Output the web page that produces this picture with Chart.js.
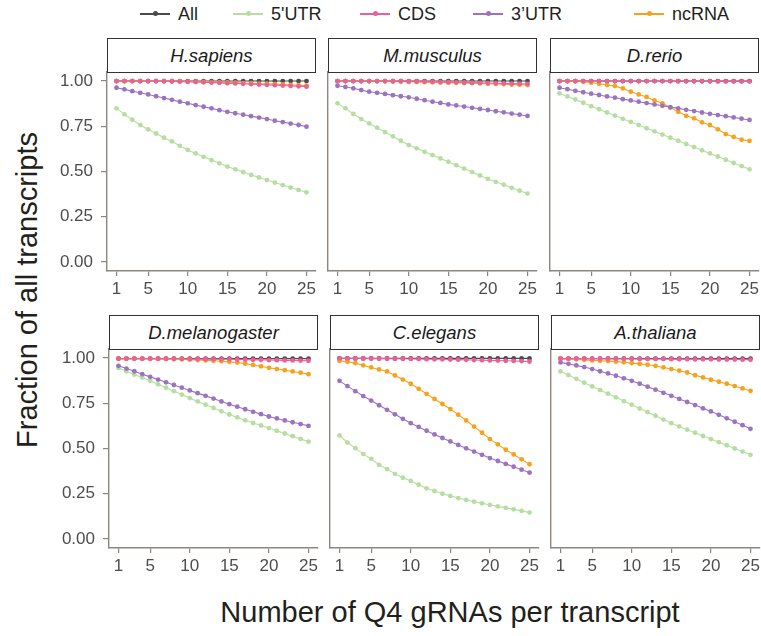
<!DOCTYPE html>
<html><head><meta charset="utf-8">
<script src="https://cdn.jsdelivr.net/npm/chart.js@4.4.0/dist/chart.umd.min.js"></script>
<style>
html,body{margin:0;padding:0;background:#fff;}
body{width:761px;height:636px;position:relative;overflow:hidden;font-family:"Liberation Sans",Arial,Helvetica,sans-serif;}
canvas{position:absolute;}
.strip{position:absolute;box-sizing:border-box;border:1px solid #333;background:#fff;font-style:italic;font-size:18.5px;color:#1a1a1a;display:flex;align-items:center;justify-content:center;}
.leg{position:absolute;top:4px;height:20px;display:flex;align-items:center;font-size:18px;color:#231f1a;}
.legline{position:relative;width:30px;height:1.5px;margin-right:8px;}
.legdot{position:absolute;left:12.5px;top:-2px;width:5px;height:5px;border-radius:50%;}
.title{position:absolute;color:#231f1a;font-size:29px;white-space:nowrap;}
</style></head><body>
<script>
// ---------- DATA ----------
const xValues = [1,2,3,4,5,6,7,8,9,10,11,12,13,14,15,16,17,18,19,20,21,22,23,24,25];
const xTicks = [1,5,10,15,20,25];
const yTicks = [0,0.25,0.5,0.75,1];
const seriesNames = ["All","5'UTR","CDS","3\u2019UTR","ncRNA"];
const seriesColors = ["#4a4a4a","#b5dea0","#ec5f99","#9b73c0","#f7a21b"];
const speciesNames = ["H.sapiens","M.musculus","D.rerio","D.melanogaster","C.elegans","A.thaliana"];

const hsapiens_All   = [1,1,1,1,1,1,1,1,1,1,1,1,1,1,1,1,1,1,1,1,1,1,1,1,1];
const hsapiens_5UTR  = [0.849,0.816,0.786,0.757,0.733,0.710,0.687,0.666,0.642,0.619,0.600,0.581,0.563,0.545,0.527,0.512,0.497,0.481,0.467,0.453,0.439,0.425,0.411,0.398,0.385];
const hsapiens_CDS   = [1,1,1,1,1,1,0.999,0.998,0.997,0.996,0.995,0.993,0.992,0.990,0.988,0.987,0.985,0.983,0.981,0.979,0.977,0.975,0.973,0.971,0.969];
const hsapiens_3UTR  = [0.963,0.954,0.944,0.935,0.926,0.916,0.906,0.896,0.886,0.877,0.867,0.858,0.849,0.839,0.830,0.822,0.814,0.806,0.798,0.790,0.781,0.773,0.765,0.757,0.748];
const hsapiens_ncRNA = [1,1,1,1,1,1,1,0.999,0.998,0.997,0.996,0.995,0.994,0.993,0.992,0.991,0.989,0.988,0.986,0.985,0.983,0.981,0.979,0.977,0.975];

const mmusculus_All   = [1,1,1,1,1,1,1,1,1,1,1,1,1,1,1,1,1,1,1,1,1,1,1,1,1];
const mmusculus_5UTR  = [0.877,0.849,0.818,0.790,0.766,0.742,0.718,0.694,0.670,0.646,0.628,0.609,0.591,0.572,0.554,0.535,0.516,0.497,0.478,0.459,0.443,0.427,0.410,0.394,0.378];
const mmusculus_CDS   = [1,1,1,1,1,1,1,0.999,0.999,0.998,0.998,0.997,0.996,0.995,0.994,0.993,0.992,0.991,0.990,0.989,0.988,0.987,0.986,0.985,0.984];
const mmusculus_3UTR  = [0.974,0.967,0.960,0.950,0.941,0.935,0.929,0.922,0.916,0.910,0.902,0.894,0.886,0.879,0.871,0.865,0.859,0.852,0.846,0.840,0.833,0.827,0.820,0.814,0.807];
const mmusculus_ncRNA = [1,1,1,1,1,0.999,0.999,0.998,0.997,0.996,0.995,0.994,0.993,0.992,0.991,0.990,0.989,0.988,0.987,0.985,0.984,0.983,0.981,0.980,0.978];

const drerio_All   = [1,1,1,1,1,1,1,1,1,1,1,1,1,1,1,1,1,1,1,1,1,1,1,1,1];
const drerio_5UTR  = [0.932,0.915,0.898,0.880,0.861,0.844,0.826,0.809,0.791,0.774,0.757,0.739,0.722,0.704,0.687,0.670,0.652,0.635,0.617,0.600,0.583,0.565,0.547,0.530,0.512];
const drerio_CDS   = [1,1,1,1,1,1,1,1,1,1,1,1,1,1,1,0.999,0.999,0.999,0.999,0.999,0.998,0.998,0.998,0.998,0.998];
const drerio_3UTR  = [0.963,0.955,0.946,0.938,0.930,0.923,0.915,0.908,0.900,0.893,0.886,0.878,0.871,0.863,0.856,0.849,0.841,0.834,0.826,0.819,0.812,0.806,0.799,0.792,0.785];
const drerio_ncRNA = [1,1,0.999,0.996,0.991,0.985,0.978,0.972,0.960,0.941,0.926,0.912,0.893,0.877,0.853,0.830,0.808,0.794,0.772,0.757,0.733,0.707,0.691,0.676,0.669];

const dmelanogaster_All   = [0.997,0.997,0.997,0.997,0.997,0.997,0.997,0.997,0.997,0.997,0.997,0.997,0.997,0.997,0.997,0.997,0.997,0.997,0.997,0.997,0.997,0.997,0.997,0.997,0.997];
const dmelanogaster_5UTR  = [0.945,0.927,0.909,0.892,0.874,0.855,0.836,0.817,0.798,0.779,0.760,0.742,0.724,0.706,0.688,0.672,0.656,0.641,0.627,0.613,0.598,0.583,0.568,0.553,0.538];
const dmelanogaster_CDS   = [0.997,0.997,0.997,0.997,0.997,0.997,0.996,0.996,0.996,0.995,0.995,0.994,0.994,0.993,0.993,0.992,0.991,0.990,0.990,0.989,0.988,0.987,0.987,0.986,0.985];
const dmelanogaster_3UTR  = [0.957,0.942,0.927,0.911,0.896,0.881,0.866,0.851,0.836,0.821,0.806,0.791,0.776,0.760,0.745,0.731,0.717,0.703,0.690,0.677,0.666,0.655,0.645,0.635,0.625];
const dmelanogaster_ncRNA = [0.997,0.997,0.997,0.996,0.996,0.995,0.995,0.994,0.993,0.991,0.989,0.987,0.985,0.982,0.979,0.975,0.969,0.962,0.954,0.946,0.939,0.933,0.926,0.919,0.911];

const celegans_All   = [0.998,0.998,0.998,0.998,0.998,0.998,0.998,0.998,0.998,0.998,0.998,0.998,0.998,0.998,0.998,0.998,0.998,0.998,0.998,0.998,0.998,0.998,0.998,0.998,0.998];
const celegans_5UTR  = [0.572,0.533,0.502,0.469,0.443,0.410,0.386,0.360,0.339,0.321,0.300,0.280,0.265,0.250,0.238,0.226,0.216,0.206,0.197,0.188,0.180,0.172,0.164,0.155,0.146];
const celegans_CDS   = [0.998,0.998,0.998,0.998,0.997,0.997,0.997,0.996,0.996,0.995,0.995,0.994,0.993,0.993,0.992,0.991,0.990,0.989,0.988,0.987,0.986,0.985,0.984,0.983,0.981];
const celegans_3UTR  = [0.874,0.845,0.817,0.790,0.765,0.739,0.714,0.689,0.664,0.640,0.619,0.598,0.578,0.558,0.539,0.520,0.501,0.483,0.465,0.447,0.431,0.415,0.399,0.383,0.367];
const celegans_ncRNA = [0.985,0.979,0.972,0.960,0.948,0.937,0.926,0.904,0.881,0.858,0.830,0.802,0.774,0.746,0.718,0.687,0.655,0.621,0.587,0.552,0.523,0.493,0.467,0.440,0.413];

const athaliana_All   = [0.997,0.997,0.997,0.997,0.997,0.997,0.997,0.997,0.997,0.997,0.997,0.997,0.997,0.997,0.997,0.997,0.997,0.997,0.997,0.997,0.997,0.997,0.997,0.997,0.997];
const athaliana_5UTR  = [0.926,0.906,0.885,0.864,0.843,0.823,0.803,0.783,0.762,0.742,0.721,0.701,0.681,0.660,0.640,0.622,0.604,0.587,0.569,0.552,0.535,0.518,0.500,0.483,0.465];
const athaliana_CDS   = [0.997,0.997,0.997,0.997,0.997,0.997,0.996,0.996,0.996,0.996,0.995,0.995,0.995,0.995,0.994,0.994,0.994,0.993,0.993,0.993,0.992,0.992,0.992,0.991,0.991];
const athaliana_3UTR  = [0.976,0.968,0.959,0.950,0.939,0.927,0.915,0.902,0.888,0.874,0.858,0.842,0.825,0.808,0.791,0.774,0.757,0.740,0.722,0.705,0.686,0.667,0.648,0.629,0.609];
const athaliana_ncRNA = [0.996,0.995,0.993,0.990,0.987,0.985,0.983,0.980,0.977,0.972,0.968,0.963,0.957,0.948,0.939,0.930,0.920,0.905,0.893,0.880,0.869,0.858,0.845,0.832,0.819];

// series per species in legend order: All, 5'UTR, CDS, 3'UTR, ncRNA
const panelSeries = [
  [hsapiens_All, hsapiens_5UTR, hsapiens_CDS, hsapiens_3UTR, hsapiens_ncRNA],
  [mmusculus_All, mmusculus_5UTR, mmusculus_CDS, mmusculus_3UTR, mmusculus_ncRNA],
  [drerio_All, drerio_5UTR, drerio_CDS, drerio_3UTR, drerio_ncRNA],
  [dmelanogaster_All, dmelanogaster_5UTR, dmelanogaster_CDS, dmelanogaster_3UTR, dmelanogaster_ncRNA],
  [celegans_All, celegans_5UTR, celegans_CDS, celegans_3UTR, celegans_ncRNA],
  [athaliana_All, athaliana_5UTR, athaliana_CDS, athaliana_3UTR, athaliana_ncRNA]
];

// ---------- LAYOUT ----------
const FONT = '"Liberation Sans", Arial, Helvetica, sans-serif';
const AXIS_COL = '#8c8680';
const rowLefts = [[107, 328, 550], [109, 330, 551]];
const rowPlotTop = [72, 349];
const rowStripTop = [38, 315];
const PW = 209, PH = 199;
const drawOrder = [2, 3, 4, 1, 0]; // first = on top

// legend
const legendX = [140, 233, 360, 473, 634];
seriesNames.forEach((n, i) => {
  const d = document.createElement('div');
  d.className = 'leg';
  d.style.left = legendX[i] + 'px';
  d.innerHTML = '<div class="legline" style="background:' + seriesColors[i] + '"><div class="legdot" style="background:' + seriesColors[i] + '"></div></div><span>' + n + '</span>';
  document.body.appendChild(d);
});

// axis titles
const yt = document.createElement('div');
yt.className = 'title';
yt.textContent = 'Fraction of all transcripts';
yt.style.left = '27px'; yt.style.top = '290px';
yt.style.transform = 'translate(-50%,-50%) rotate(-90deg)';
document.body.appendChild(yt);
const xt = document.createElement('div');
xt.className = 'title';
xt.textContent = 'Number of Q4 gRNAs per transcript';
xt.style.left = '450px'; xt.style.top = '612px';
xt.style.transform = 'translate(-50%,-50%)';
document.body.appendChild(xt);

function makePanel(idx) {
  const r = Math.floor(idx / 3), c = idx % 3;
  const left = rowLefts[r][c], top = rowPlotTop[r];
  const yW = c === 0 ? 60 : 4;
  const padT = 20, padR = 14, xH = 32;
  const cv = document.createElement('canvas');
  const cw = yW + PW + padR, ch = padT + PH + xH;
  cv.width = cw; cv.height = ch;
  cv.style.width = cw + 'px'; cv.style.height = ch + 'px';
  cv.style.left = (left - yW) + 'px'; cv.style.top = (top - padT) + 'px';
  document.body.appendChild(cv);

  const s = document.createElement('div');
  s.className = 'strip';
  s.textContent = speciesNames[idx];
  s.style.left = left + 'px';
  s.style.top = rowStripTop[r] + 'px';
  s.style.width = PW + 'px';
  s.style.height = (top - rowStripTop[r] + 1) + 'px';
  document.body.appendChild(s);

  const datasets = drawOrder.map(k => ({
    label: seriesNames[k],
    data: xValues.map((x, i) => ({ x: x, y: panelSeries[idx][k][i] })),
    borderColor: seriesColors[k],
    backgroundColor: seriesColors[k],
    pointBackgroundColor: seriesColors[k],
    pointBorderWidth: 0,
    pointRadius: 2.4,
    borderWidth: 1.1,
    tension: 0,
    clip: false
  }));

  new Chart(cv, {
    type: 'line',
    data: { datasets },
    options: {
      responsive: false, animation: false, events: [],
      layout: { padding: { top: padT, right: padR, left: 0, bottom: 0 } },
      plugins: { legend: { display: false }, tooltip: { enabled: false } },
      scales: {
        x: {
          type: 'linear', min: -0.2, max: 26.2,
          afterBuildTicks: sc => { sc.ticks = xTicks.map(v => ({ value: v })); },
          afterFit: sc => { sc.height = xH; },
          grid: { drawOnChartArea: false, drawTicks: true, tickLength: 5, color: AXIS_COL, lineWidth: 1.2 },
          border: { display: true, color: AXIS_COL, width: 1.4 },
          ticks: { color: '#4d4d4d', font: { family: FONT, size: 17 }, padding: 3, maxRotation: 0, autoSkip: false }
        },
        y: {
          type: 'linear', min: -0.05, max: 1.05,
          afterBuildTicks: sc => { sc.ticks = yTicks.map(v => ({ value: v })); },
          afterFit: sc => { sc.width = yW; },
          grid: { drawOnChartArea: false, drawTicks: c === 0, tickLength: 6, color: AXIS_COL, lineWidth: 1.2 },
          border: { display: true, color: AXIS_COL, width: 1.4 },
          ticks: { display: c === 0, color: '#4d4d4d', font: { family: FONT, size: 17 }, padding: 8,
                   callback: v => Number(v).toFixed(2) }
        }
      }
    }
  });
}
for (let i = 0; i < 6; i++) makePanel(i);
</script>
</body></html>
